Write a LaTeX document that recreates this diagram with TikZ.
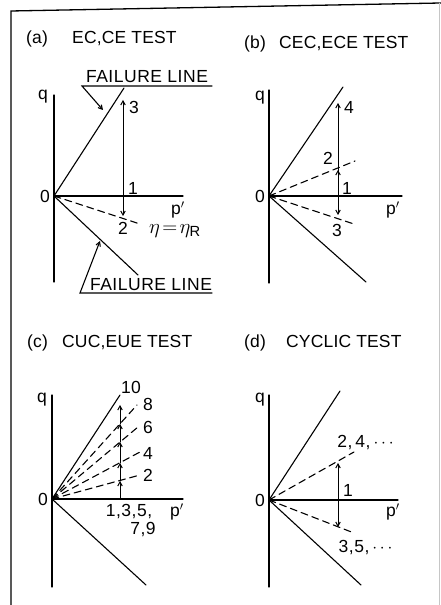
\documentclass[tikz,border=0pt]{standalone}
\usepackage{amsmath}
\usepackage{fontspec}
\setmainfont{Liberation Sans}[LetterSpace=3]
\usetikzlibrary{arrows.meta}

\tikzset{
  axis/.style={line width=1.3pt},
  fline/.style={line width=1.1pt},
  rline/.style={line width=1.1pt,dash pattern=on 7pt off 4.5pt},
  stress/.style={line width=1pt},
  lbl/.style={inner sep=0pt},
  ttl/.style={inner sep=0pt,anchor=base west,font=\fontsize{17.5}{21}\selectfont\addfontfeature{LetterSpace=1}},
}

\begin{document}
\begin{tikzpicture}[x=1pt,y=1pt,>={Straight Barb[length=4pt,width=4.5pt]},font=\fontsize{17.5}{20}\selectfont,line cap=round]
\useasboundingbox (0,0) rectangle (441,605);
% frame
\draw[line width=1.3pt] (11,0) -- (11,594) -- (441,602);
\draw[gray!45,line width=0.6pt] (439,0) -- (439,602);
% titles
\node[ttl] (ta) at (26,561) {(a)};
\node[ttl] (tan) at (72,561) {EC,CE TEST};
\node[ttl] (tb) at (244,556) {(b)};
\node[ttl] (tbn) at (279,556) {CEC,ECE TEST};
\node[ttl] (tc) at (27,257) {(c)};
\node[ttl] (tcn) at (62,257) {CUC,EUE TEST};
\node[ttl] (td) at (244,257) {(d)};
\node[ttl] (tdn) at (286,257) {CYCLIC TEST};

% (a) EC, CE
\begin{scope}[shift={(54,409)}]
\coordinate (aO) at (0,0);
\draw[axis] (0,101) -- (0,-86);
\draw[axis] (aO) -- (129,0);
\draw[fline] (aO) -- (70,108);
\draw[fline] (aO) -- (84,-79);
\draw[rline] (aO) -- (86,-28);
\draw[stress,<->] (69,96) -- (69,-20);
\node[lbl] (aq) at (-11,99) {q};
\node[lbl] (a0) at (-9,0) {0};
\node[lbl] (ap) at (124,-14) {p$'$};
\node[lbl] (a3) at (80,89) {3};
\node[lbl] (a1) at (79,8) {1};
\node[lbl] (a2) at (69,-32) {2};
\node[lbl,scale=1.2] (aeta) at (121,-35) {$\eta\!=\!\eta_{\text{R}}$};
\node[lbl] (af1) at (93,119) {FAILURE LINE};
\draw[fline,->] (158,110) -- (28,110) -- (49,86);
\node[lbl] (af2) at (97,-89) {FAILURE LINE};
\draw[fline,->] (158,-97) -- (26,-97) -- (46,-45);
\end{scope}

% (b) CEC, ECE
\begin{scope}[shift={(269,409)}]
\coordinate (bO) at (0,0);
\draw[axis] (0,106) -- (0,-87);
\draw[axis] (bO) -- (133,0);
\draw[fline] (bO) -- (74,109);
\draw[fline] (bO) -- (97,-86);
\draw[rline] (bO) -- (86,35);
\draw[rline] (bO) -- (85,-28);
\draw[stress,->] (69,0) -- (69,26);
\draw[stress,<->] (69,-19) -- (69,93);
\node[lbl] (bq) at (-9,98) {q};
\node[lbl] (b0) at (-9,0) {0};
\node[lbl] (bp) at (124,-14) {p$'$};
\node[lbl] (b4) at (80,89) {4};
\node[lbl] (b2) at (59,38) {2};
\node[lbl] (b1) at (78,8) {1};
\node[lbl] (b3) at (68,-34) {3};
\end{scope}

% (c) CUC, EUE
\begin{scope}[shift={(52,106)}]
\coordinate (cO) at (0,0);
\draw[axis] (0,104) -- (0,-88);
\draw[axis] (cO) -- (131,0);
\draw[fline] (cO) -- (68,104);
\draw[fline] (cO) -- (94,-86);
\draw[rline] (cO) -- (85,94);
\draw[rline] (cO) -- (86,72);
\draw[rline] (cO) -- (88,47);
\draw[rline] (cO) -- (88,24);
\draw[stress,->] (68,0) -- (68,18);
\draw[stress,->] (68,18) -- (68,36);
\draw[stress,->] (68,36) -- (68,57);
\draw[stress,->] (68,57) -- (68,75);
\draw[stress,->] (68,75) -- (68,94);
\node[lbl] (cq) at (-10,99) {q};
\node[lbl] (c0) at (-9,0) {0};
\node[lbl] (cp) at (125,-13) {p$'$};
\node[lbl] (c10) at (79,112) {10};
\node[lbl] (c8) at (96,95) {8};
\node[lbl] (c6) at (96,72) {6};
\node[lbl] (c4) at (96,46) {4};
\node[lbl] (c2) at (96,24) {2};
\node[lbl] (codd) at (77,-13) {1,3,5,};
\node[lbl] (codd2) at (91,-31) {7,9};
\end{scope}

% (d) cyclic
\begin{scope}[shift={(269,105)}]
\coordinate (dO) at (0,0);
\draw[axis] (0,105) -- (0,-87);
\draw[axis] (dO) -- (129,0);
\draw[fline] (dO) -- (71,109);
\draw[fline] (dO) -- (92,-85);
\draw[rline] (dO) -- (85,48);
\draw[rline] (dO) -- (85,-33);
\draw[stress,<->] (69,37) -- (69,-27);
\node[lbl] (dq) at (-9,100) {q};
\node[lbl] (d0) at (-9,0) {0};
\node[lbl] (dp) at (124,-12) {p$'$};
\node[lbl] (d1) at (79,10) {1};
\node[lbl] (deven) at (98,57) {2,\,4,\,$\cdots$};
\node[lbl] (dodd) at (98,-48) {3,5,\,$\cdots$};
\end{scope}
\end{tikzpicture}
\end{document}
